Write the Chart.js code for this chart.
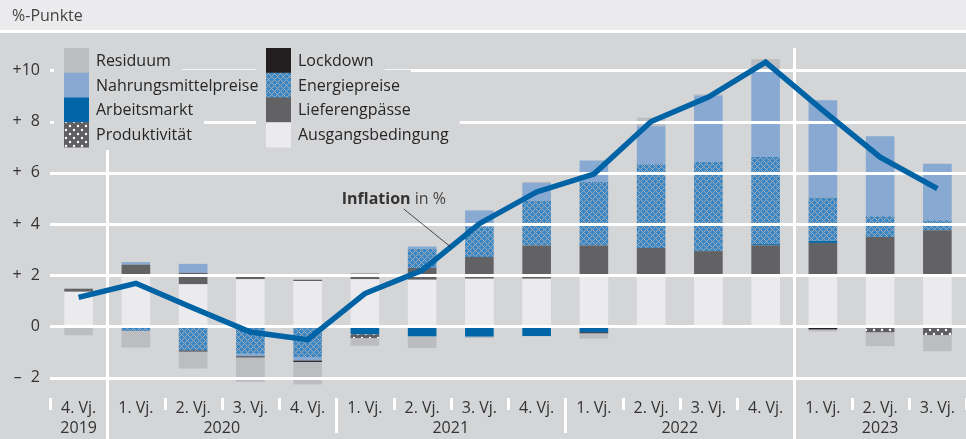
<!DOCTYPE html>
<html>
<head>
<meta charset="utf-8">
<script src="https://cdn.jsdelivr.net/npm/chart.js@4.4.0/dist/chart.umd.min.js"></script>
<style>
  html, body { margin: 0; padding: 0; background: #d4d5d7; }
  #wrap { width: 966px; height: 439px; position: relative; }
</style>
</head>
<body>
<div id="wrap"><canvas id="chart"></canvas></div>
<script>
// quarters and years
var quarters = ['4. Vj.', '1. Vj.', '2. Vj.', '3. Vj.', '4. Vj.', '1. Vj.', '2. Vj.', '3. Vj.', '4. Vj.',
                '1. Vj.', '2. Vj.', '3. Vj.', '4. Vj.', '1. Vj.', '2. Vj.', '3. Vj.'];
var years = ['2019', '2020', '2021', '2022', '2023'];
var yearSpans = [1, 4, 4, 4, 3];
var yTicks = [-2, 0, 2, 4, 6, 8, 10];

// contributions in %-points
var ausgangsbedingung = [1.35, 1.99, 1.64, 1.84, 1.77, 1.84, 1.82, 1.86, 1.86, 1.93, 1.93, 1.93, 1.93, 1.97, 1.97, 1.97];
var lieferengpaesse   = [0.12, 0.42, 0.45, 0.19, 0.05, 0.22, 0.46, 0.85, 1.30, 1.23, 1.13, 1.01, 1.23, 1.29, 1.52, 1.78];
var arbeitsmarkt      = [0, 0, 0, 0, -0.07, -0.31, -0.39, -0.40, -0.38, -0.23, 0, 0, 0.05, 0.08, 0, -0.05];
var produktivitaet    = [0, 0, 0, 0, 0, -0.15, 0, 0, 0, 0, -0.04, 0, 0, 0, -0.23, -0.29];
var energiepreise     = [0, -0.18, -0.94, -1.07, -1.13, 0, 0.75, 1.17, 1.76, 2.48, 3.27, 3.48, 3.41, 1.69, 0.81, 0.39];
var nahrungsmittel    = [0, 0.10, 0.35, -0.10, -0.13, 0, 0.09, 0.65, 0.68, 0.84, 1.49, 2.60, 3.35, 3.80, 3.13, 2.21];
var lockdown          = [0, 0, -0.04, -0.04, -0.06, 0, 0, 0, 0, -0.04, 0, 0, 0, -0.12, 0, 0];
var residuum          = [-0.35, -0.65, -0.67, -0.96, -0.88, -0.30, -0.46, -0.06, 0.05, -0.21, 0.33, 0.05, 0.47, -0.08, -0.54, -0.63];
var inflation         = [1.13, 1.68, 0.72, -0.22, -0.52, 1.28, 2.19, 4.01, 5.25, 5.95, 8.00, 8.96, 10.32, 8.44, 6.61, 5.38];

var FONT = '"Open Sans", "Noto Sans", sans-serif';
var FS = 16;
var BG = '#d4d5d7';
var TXT = '#333333';

// blue "plus" lattice on grey, pixel exact
function makeHatch() {
  var n = 6;
  var c = document.createElement('canvas');
  c.width = n; c.height = n;
  var g = c.getContext('2d');
  g.fillStyle = '#a2abb5';
  g.fillRect(0, 0, n, n);
  g.fillStyle = '#3a87c6';
  var centers = [[1, 1], [4, 4], [7, 1], [1, 7], [7, 7], [-2, 4], [4, -2]];
  for (var px = 0; px < n; px++) {
    for (var py = 0; py < n; py++) {
      for (var k = 0; k < centers.length; k++) {
        var dx = Math.abs(px - centers[k][0]), dy = Math.abs(py - centers[k][1]);
        if (dx + dy <= 2) { g.fillRect(px, py, 1, 1); break; }
      }
    }
  }
  return g.createPattern(c, 'repeat');
}

function makeDots() {
  var c = document.createElement('canvas');
  c.width = 8; c.height = 8;
  var g = c.getContext('2d');
  g.fillStyle = '#5f5f61';
  g.fillRect(0, 0, 8, 8);
  g.fillStyle = '#ffffff';
  g.beginPath(); g.arc(2, 2, 1.2, 0, Math.PI * 2); g.fill();
  g.beginPath(); g.arc(6, 6, 1.2, 0, Math.PI * 2); g.fill();
  return g.createPattern(c, 'repeat');
}

var hatch = makeHatch();
var dots = makeDots();

var colors = {
  'Residuum': '#bcbdc1',
  'Nahrungsmittelpreise': '#88a9d1',
  'Arbeitsmarkt': '#0066a8',
  'Produktivität': dots,
  'Lockdown': '#231f20',
  'Energiepreise': hatch,
  'Lieferengpässe': '#626264',
  'Ausgangsbedingung': '#ebebed'
};
var legendCols = [
  ['Residuum', 'Nahrungsmittelpreise', 'Arbeitsmarkt', 'Produktivität'],
  ['Lockdown', 'Energiepreise', 'Lieferengpässe', 'Ausgangsbedingung']
];

function bar(label, data) {
  return { type: 'bar', label: label, data: data, backgroundColor: colors[label],
           borderWidth: 0, stack: 's', order: 1, barPercentage: 0.5, categoryPercentage: 1 };
}

var decor = {
  id: 'decor',
  beforeDraw: function (chart) {
    var ctx = chart.ctx;
    ctx.save();
    ctx.fillStyle = BG;
    ctx.fillRect(0, 0, chart.width, chart.height);
    ctx.fillStyle = '#ebebed';
    ctx.fillRect(0, 0, chart.width, 30);
    ctx.fillStyle = '#ffffff';
    ctx.fillRect(0, 30, chart.width, 3);
    ctx.fillStyle = '#444';
    ctx.font = FS + 'px ' + FONT;
    ctx.textBaseline = 'middle';
    ctx.fillText('%-Punkte', 12, 16);
    ctx.restore();
  },
  beforeDatasetDraw: function (chart, args) {
    if (args.meta.type !== 'line') return;
    var ctx = chart.ctx, x = chart.scales.x, y = chart.scales.y, a = chart.chartArea;
    ctx.save();
    ctx.strokeStyle = '#ffffff';
    ctx.lineWidth = 3;
    yTicks.forEach(function (v) {
      var py = Math.round(y.getPixelForValue(v)) + 0.5;
      ctx.beginPath(); ctx.moveTo(a.left, py); ctx.lineTo(a.right, py); ctx.stroke();
    });
    // separators and ticks on the time axis
    var idx = 0;
    var bounds = [];
    for (var i = 0; i <= quarters.length; i++) bounds.push(i - 0.5);
    var yearEnds = [];
    yearSpans.forEach(function (s) { idx += s; yearEnds.push(idx - 0.5); });
    bounds.forEach(function (b) {
      var px = Math.round(x.getPixelForValue(b)) + 0.5;
      var top = a.bottom, bot = a.bottom + 12;
      if (b === yearEnds[0]) { top = a.top + 118; bot = chart.height; }
      else if (b === yearEnds[3]) { top = a.top + 16; bot = chart.height; }
      else if (yearEnds.indexOf(b) >= 0 && b < quarters.length - 0.5) { bot = a.bottom + 35; }
      ctx.beginPath(); ctx.moveTo(px, top); ctx.lineTo(px, bot); ctx.stroke();
    });
    ctx.restore();
  },
  afterDraw: function (chart) {
    var ctx = chart.ctx, x = chart.scales.x, y = chart.scales.y, a = chart.chartArea;
    ctx.save();
    // year labels
    ctx.font = FS + 'px ' + FONT;
    ctx.fillStyle = TXT;
    ctx.textAlign = 'center';
    ctx.textBaseline = 'middle';
    var start = 0;
    years.forEach(function (yr, i) {
      var mid = start + (yearSpans[i] - 1) / 2;
      ctx.fillText(yr, x.getPixelForValue(mid), a.bottom + 30);
      start += yearSpans[i];
    });

    // legend
    var sw = 25, rh = 24.75, top0 = a.top + 16;
    var colX = [a.left + 14, a.left + 216];
    ctx.textAlign = 'left';
    legendCols.forEach(function (col, c) {
      col.forEach(function (lbl, r) {
        var w = ctx.measureText(lbl).width;
        ctx.fillStyle = BG;
        ctx.fillRect(colX[c] - 10, top0 + r * rh - 3, sw + 7 + w + 21, rh + 6);
      });
    });
    legendCols.forEach(function (col, c) {
      col.forEach(function (lbl, r) {
        ctx.fillStyle = colors[lbl];
        ctx.fillRect(colX[c], top0 + r * rh, sw, rh + 0.5);
        ctx.fillStyle = '#262626';
        ctx.fillText(lbl, colX[c] + sw + 7, top0 + r * rh + rh / 2 + 1);
      });
    });

    // annotation
    var ex = x.getPixelForValue(6.5), ey = y.getPixelForValue((inflation[6] + inflation[7]) / 2);
    ctx.strokeStyle = '#222';
    ctx.lineWidth = 0.8;
    ctx.beginPath(); ctx.moveTo(ex - 47, ey - 38); ctx.lineTo(ex, ey); ctx.stroke();
    ctx.fillStyle = '#333';
    ctx.font = 'bold ' + FS + 'px ' + FONT;
    var tx = ex - 109, ty = ey - 48;
    ctx.fillText('Inflation', tx, ty);
    var bw = ctx.measureText('Inflation ').width;
    ctx.font = FS + 'px ' + FONT;
    ctx.fillStyle = '#444';
    ctx.fillText('in %', tx + bw, ty);
    ctx.restore();
  }
};

new Chart(document.getElementById('chart'), {
  data: {
    labels: quarters,
    datasets: [
      { type: 'line', label: 'Inflation in %', data: inflation, borderColor: '#0063a5', borderWidth: 5.5,
        pointRadius: 0, tension: 0, order: 0, borderJoinStyle: 'miter', borderCapStyle: 'butt' },
      bar('Ausgangsbedingung', ausgangsbedingung),
      bar('Lieferengpässe', lieferengpaesse),
      bar('Arbeitsmarkt', arbeitsmarkt),
      bar('Produktivität', produktivitaet),
      bar('Energiepreise', energiepreise),
      bar('Nahrungsmittelpreise', nahrungsmittel),
      bar('Lockdown', lockdown),
      bar('Residuum', residuum)
    ]
  },
  options: {
    responsive: true,
    maintainAspectRatio: false,
    animation: false,
    layout: { padding: { top: 32, left: 0, right: 0, bottom: 0 } },
    plugins: { legend: { display: false }, tooltip: { enabled: false } },
    scales: {
      x: {
        stacked: true,
        grid: { display: false, drawTicks: false },
        border: { display: false },
        ticks: { color: TXT, font: { size: FS, family: FONT }, padding: 1, maxRotation: 0, autoSkip: false },
        afterFit: function (s) { s.height = 41; }
      },
      y: {
        stacked: true,
        min: -2.8,
        max: 11.5,
        grid: { display: false, drawTicks: false },
        border: { display: false },
        afterBuildTicks: function (s) { s.ticks = yTicks.map(function (v) { return { value: v }; }); },
        ticks: {
          color: TXT, padding: 10, font: { size: FS, family: FONT },
          callback: function (v) {
            if (v > 0) return '+' + (v < 10 ? '\u2007' : '') + v;
            if (v < 0) return '\u2013\u2007' + Math.abs(v);
            return '0';
          }
        },
        afterFit: function (s) { s.width = 50; }
      }
    }
  },
  plugins: [decor]
});
</script>
</body>
</html>
